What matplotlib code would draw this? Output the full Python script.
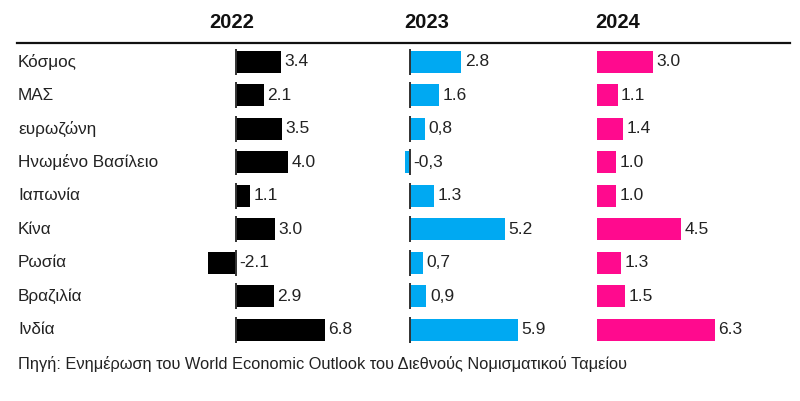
import matplotlib.pyplot as plt
import matplotlib.transforms as mtransforms

plt.rcParams['font.family'] = ['Liberation Sans', 'DejaVu Sans']

countries = ['Κόσμος', 'ΜΑΣ', 'ευρωζώνη', 'Ηνωμένο Βασίλειο', 'Ιαπωνία',
             'Κίνα', 'Ρωσία', 'Βραζιλία', 'Ινδία']
years = ['2022', '2023', '2024']
g2022 = [3.4, 2.1, 3.5, 4.0, 1.1, 3.0, -2.1, 2.9, 6.8]
g2023 = [2.8, 1.6, 0.8, -0.3, 1.3, 5.2, 0.7, 0.9, 5.9]
g2024 = [3.0, 1.1, 1.4, 1.0, 1.0, 4.5, 1.3, 1.5, 6.3]
lab2022 = ['3.4', '2.1', '3.5', '4.0', '1.1', '3.0', '-2.1', '2.9', '6.8']
lab2023 = ['2.8', '1.6', '0,8', '-0,3', '1.3', '5.2', '0,7', '0,9', '5.9']
lab2024 = ['3.0', '1.1', '1.4', '1.0', '1.0', '4.5', '1.3', '1.5', '6.3']

W, H = 800, 401
fig = plt.figure(figsize=(W / 100, H / 100), dpi=100)

top_px, bot_px = 45, 346.5
# (left px, right px, zero px, px per unit)
panels = [(200, 390, 236, 13.1), (395, 585, 410, 18.3), (590, 790, 597, 18.7)]
series = [g2022, g2023, g2024]
labels = [lab2022, lab2023, lab2024]
colors = ['#000000', '#00a9f2', '#ff0a8e']
zero_line = [True, True, False]
title_x = [232, 427, 618]

axes = []
for k, (l, r, z, s) in enumerate(panels):
    ax = fig.add_axes([l / W, 1 - bot_px / H, (r - l) / W, (bot_px - top_px) / H])
    ax.set_xlim((l - z) / s, (r - z) / s)
    ax.set_ylim(8.5, -0.5)
    ax.axis('off')
    ypos = list(range(len(countries)))
    ax.barh(ypos, series[k], height=0.65, color=colors[k])
    if zero_line[k]:
        ax.vlines([0] * len(ypos), [y - 0.39 for y in ypos], [y + 0.39 for y in ypos],
                  color='#333333', lw=1.4)
    for y, v, t in zip(ypos, series[k], labels[k]):
        xv = max(v, 0)
        ax.annotate(t, (xv, y), xytext=(2.5, 0), textcoords='offset points',
                    va='center', ha='left', fontsize=12.5, color='#222222')
    fig.text(title_x[k] / W, 1 - 22 / H, years[k], ha='center', va='center',
             fontsize=14.5, fontweight='bold', color='#111111')
    axes.append(ax)

trans = mtransforms.blended_transform_factory(fig.transFigure, axes[0].transData)
for i, c in enumerate(countries):
    axes[0].text(18 / W, i, c, transform=trans, ha='left', va='center',
                 fontsize=12.3, color='#222222')

fig.add_artist(plt.Line2D([17 / W, 790 / W], [1 - 43 / H, 1 - 43 / H],
                          color='#111111', lw=1.6))

fig.text(18 / W, 1 - 364 / H,
         'Πηγή: Ενημέρωση του World Economic Outlook του Διεθνούς Νομισματικού Ταμείου',
         ha='left', va='center', fontsize=11.8, color='#222222')

fig.savefig('out.png', dpi=100, facecolor='white')
